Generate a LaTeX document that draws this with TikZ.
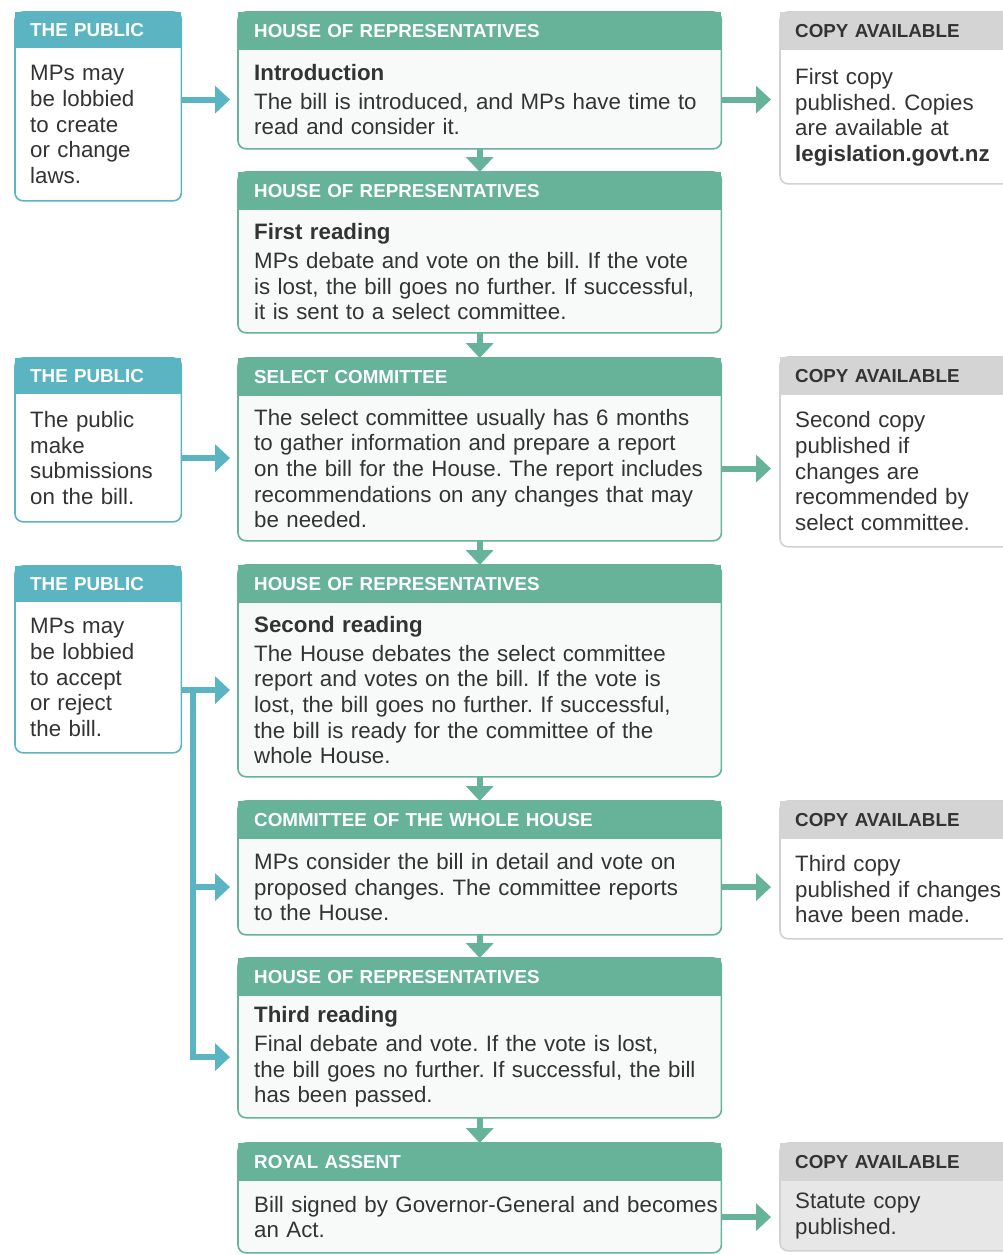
\documentclass[tikz,border=0pt]{standalone}
\usepackage{fontspec}
\setmainfont{Liberation Sans}
\frenchspacing
\usetikzlibrary{positioning, arrows.meta, backgrounds}

\definecolor{hgreen}{HTML}{66B39A}
\definecolor{hteal}{HTML}{5BB4C2}
\definecolor{hgrey}{HTML}{D4D4D4}
\definecolor{fgrey}{HTML}{D2D2D2}
\definecolor{lgrey}{HTML}{E7E7E7}
\definecolor{bfill}{HTML}{F8F9F9}
\definecolor{ink}{HTML}{333333}

\tikzset{
  hdr/.style={anchor=north west, minimum height=38pt, inner xsep=16pt, text width=451pt, align=left,
    text height=13.5pt, text depth=0pt, font=\fontsize{18.8}{20}\selectfont\bfseries, text=white, fill=hgreen},
  pubhdr/.style={hdr, minimum height=36pt, inner xsep=15pt, text width=136pt, fill=hteal},
  cpyhdr/.style={hdr, inner xsep=15pt, text width=215pt, fill=hgrey, text=ink},
  bdy/.style={anchor=north west, inner xsep=16pt, inner ysep=0pt, text width=470pt, align=left,
    font=\fontsize{22.3}{25.6}\selectfont, text=ink},
  pubbdy/.style={bdy, inner xsep=15pt, text width=150pt},
  cpybdy/.style={bdy, inner xsep=15pt, text width=240pt},
  gframe/.style={draw=hgreen, line width=1.6pt, fill=bfill, rounded corners=8pt},
  tframe/.style={gframe, draw=hteal, fill=white},
  cframe/.style={gframe, draw=fgrey, fill=white},
  garrow/.style={draw=hgreen, line width=6pt, -{Triangle[length=15pt,width=27pt]}},
  tarrow/.style={garrow, draw=hteal},
}

\begin{document}
\begin{tikzpicture}[x=1pt, y=-1pt]
\useasboundingbox (0,0) rectangle (1003,1255);

% main column
\node[hdr] (h1) at (238,12) {HOUSE OF REPRESENTATIVES};
\node[below=0pt of h1.south west, bdy, minimum height=98pt] (b1) {\textbf{Introduction}\\[3.4pt]
  The bill is introduced, and MPs have time to\\read and consider it.};
\node[hdr] (h2) at (238,172) {HOUSE OF REPRESENTATIVES};
\node[below=0pt of h2.south west, bdy, minimum height=122pt] (b2) {\textbf{First reading}\\[3.4pt]
  MPs debate and vote on the bill. If the vote\\is lost, the bill goes no further. If successful,\\it is sent to a select committee.};
\node[hdr] (h3) at (238,358) {SELECT COMMITTEE};
\node[below=0pt of h3.south west, bdy, minimum height=144pt] (b3) {The select committee usually has 6 months\\to gather information and prepare a report\\on the bill for the House. The report includes\\recommendations on any changes that may\\be needed.};
\node[hdr] (h4) at (238,565) {HOUSE OF REPRESENTATIVES};
\node[below=0pt of h4.south west, bdy, minimum height=173pt] (b4) {\textbf{Second reading}\\[3.4pt]
  The House debates the select committee\\report and votes on the bill. If the vote is\\lost, the bill goes no further. If successful,\\the bill is ready for the committee of the\\whole House.};
\node[hdr] (h5) at (238,801) {COMMITTEE OF THE WHOLE HOUSE};
\node[below=0pt of h5.south west, bdy, minimum height=95pt] (b5) {MPs consider the bill in detail and vote on\\proposed changes. The committee reports\\to the House.};
\node[hdr] (h6) at (238,958) {HOUSE OF REPRESENTATIVES};
\node[below=0pt of h6.south west, bdy, minimum height=121pt] (b6) {\textbf{Third reading}\\[3.4pt]
  Final debate and vote. If the vote is lost,\\the bill goes no further. If successful, the bill\\has been passed.};
\node[hdr] (h7) at (238,1143) {ROYAL ASSENT};
\node[below=0pt of h7.south west, bdy, minimum height=71pt] (b7) {Bill signed by Governor-General and becomes\\an Act.};

% the public
\node[pubhdr] (p1h) at (15,12) {THE PUBLIC};
\node[below=0pt of p1h.south west, pubbdy, minimum height=152pt] (p1) {MPs may\\be lobbied\\to create\\or change\\laws.};
\node[pubhdr] (p2h) at (15,358) {THE PUBLIC};
\node[below=0pt of p2h.south west, pubbdy, minimum height=127pt] (p2) {The public\\make\\submissions\\on the bill.};
\node[pubhdr] (p3h) at (15,566) {THE PUBLIC};
\node[below=0pt of p3h.south west, pubbdy, minimum height=150pt] (p3) {MPs may\\be lobbied\\to accept\\or reject\\the bill.};

% copies
\node[cpyhdr] (c1h) at (780,12) {COPY AVAILABLE};
\node[below=0pt of c1h.south west, cpybdy, minimum height=133pt] (c1) {First copy\\published. Copies\\are available at\\\textbf{legislation.govt.nz}};
\node[cpyhdr] (c2h) at (780,357) {COPY AVAILABLE};
\node[below=0pt of c2h.south west, cpybdy, minimum height=151pt] (c2) {Second copy\\published if\\changes are\\recommended by\\select committee.};
\node[cpyhdr] (c3h) at (780,801) {COPY AVAILABLE};
\node[below=0pt of c3h.south west, cpybdy, minimum height=99pt] (c3) {Third copy\\published if changes\\have been made.};
\node[cpyhdr] (c4h) at (780,1143) {COPY AVAILABLE};
\node[below=0pt of c4h.south west, cpybdy, minimum height=69pt] (c4) {Statute copy\\published.};

\begin{scope}[on background layer]
\fill[white] (0,0) rectangle (1003,1255);
\foreach \i in {1,...,7}
  \draw[gframe] (h\i.north west) rectangle (h\i.east |- b\i.south);
\foreach \i in {1,2,3}
  \draw[tframe] (p\i h.north west) rectangle (p\i h.east |- p\i.south);
\foreach \i in {1,2,3}
  \draw[cframe] (c\i h.north west) rectangle (c\i h.east |- c\i.south);
\draw[cframe, fill=lgrey] (c4h.north west) rectangle (c4h.east |- c4.south);
\end{scope}

% down the column
\foreach \i/\j in {1/2,2/3,3/4,4/5,5/6,6/7}
  \draw[garrow] (h\i.south |- b\i.south) -- (h\j.north);

% out to the copies
\draw[garrow, shorten >=9pt] (h1.east |- b1.west) -- (c1.west |- b1.west);
\draw[garrow, shorten >=9pt] (h3.east |- b3.west) -- (c2.west |- b3.west);
\draw[garrow, shorten >=9pt] (h5.east |- b5.west) -- (c3.west |- b5.west);
\draw[garrow, shorten >=9pt] (h7.east |- b7.west) -- (c4.west |- b7.west);

% in from the public
\draw[tarrow, shorten >=8pt] (p1h.east |- b1.west) -- (b1.west);
\draw[tarrow, shorten >=8pt] (p2h.east |- p2.west) -- (b3.west |- p2.west);
\coordinate (split) at ([xshift=12pt]p3h.east |- b4.west);
\draw[tarrow, shorten >=8pt] (p3h.east |- b4.west) -- (b4.west);
\draw[tarrow, shorten >=8pt] (split) |- (b5.west);
\draw[tarrow, shorten >=8pt] (split) |- (b6.west);
\end{tikzpicture}
\end{document}
